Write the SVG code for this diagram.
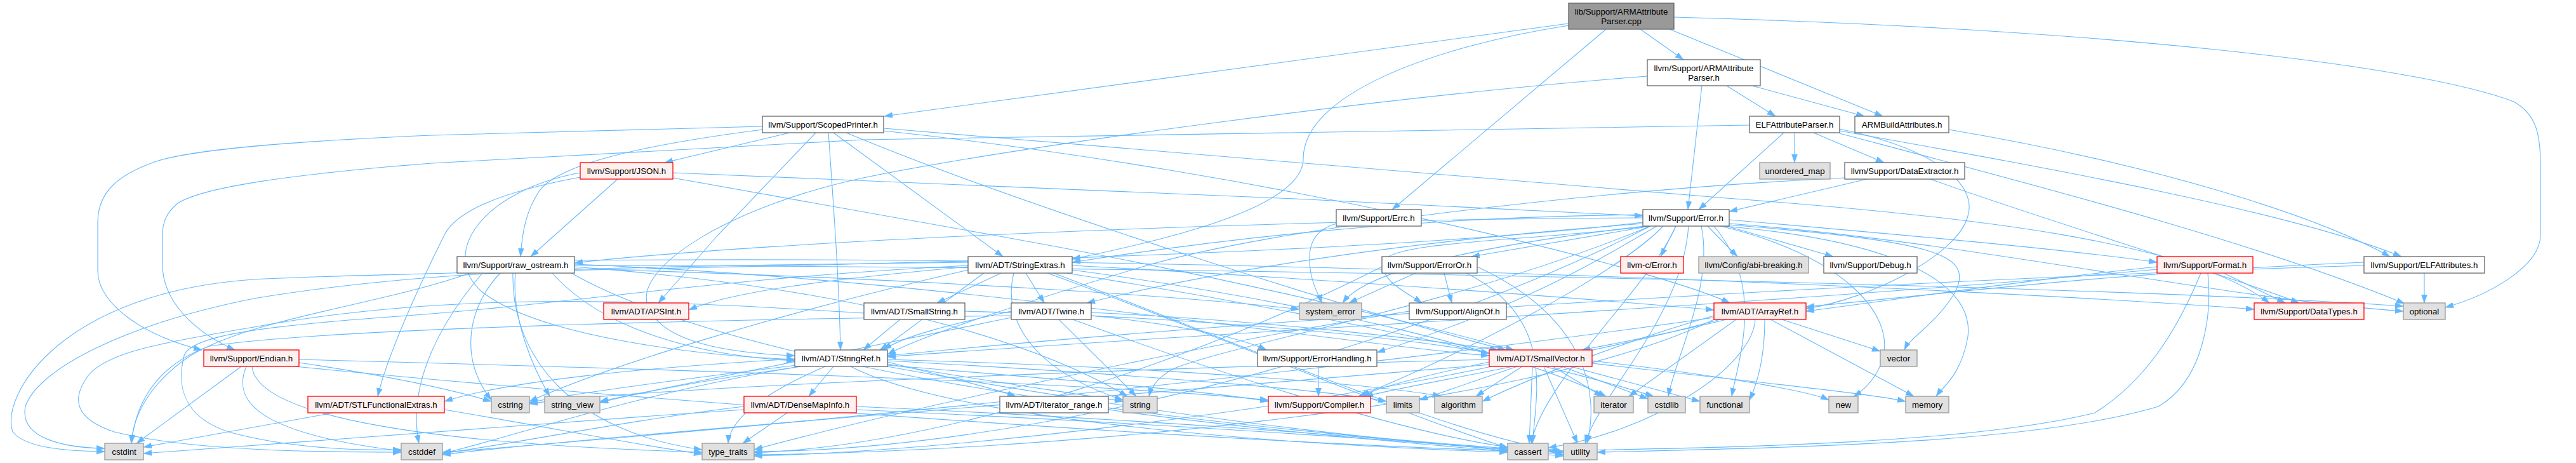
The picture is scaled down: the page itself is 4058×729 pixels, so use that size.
<svg xmlns="http://www.w3.org/2000/svg" width="4058" height="729" viewBox="0 0 4058 729">
<style>
.nd rect{fill:#fff;stroke:#666;stroke-width:1.3}
.root rect{fill:#999;stroke:#666}
.red rect{fill:#FFF0F0;stroke:#F00}
.sys rect{fill:#E0E0E0;stroke:#999}
.nd text{font-family:"Liberation Sans",Arial,Helvetica,sans-serif;font-size:13.33px;text-anchor:middle;fill:#000}
#edges path{fill:none;stroke:#63B8FF;stroke-width:1.1;marker-end:url(#ah)}
</style>
<defs>
<marker id="ah" markerUnits="userSpaceOnUse" markerWidth="14" markerHeight="10" refX="13" refY="4.5" orient="auto">
<path d="M0,0 L13,4.5 L0,9 z" fill="#63B8FF" stroke="#63B8FF" stroke-width="0.5"/>
</marker>
</defs>
<rect x="0" y="0" width="4058" height="729" fill="#fff"/>
<g id="edges">
<path d="M2471,37 L1393,183"/>
<path d="M2471,40 C2250,75 2053,150 2053,250 C2053,325 1850,375 1689,408"/>
<path d="M2530,46 L2193,330"/>
<path d="M2584,46 L2652,94"/>
<path d="M2630,46 L2966,183"/>
<path d="M2637,27 C3300,45 3800,100 3960,160 C3995,180 4002,210 4002,260 L4002,370 C4002,420 3920,465 3852,484"/>
<path d="M2720,135 L2797,183"/>
<path d="M2760,135 L2937,183"/>
<path d="M2681,135 L2659,330"/>
<path d="M2595,120 C2200,150 1600,230 1360,280 C1150,325 1000,420 1020,480 C1040,540 1150,556 1252,560"/>
<path d="M1201,199 L680,213 C400,225 280,240 238,257 C190,275 154,300 154,350 L154,427 C154,480 230,530 318,551"/>
<path d="M1201,204 C1000,230 880,260 850,300 C830,330 823,360 820,404"/>
<path d="M1244,209 L1047,256"/>
<path d="M1285,209 L1131,370 L1037,477"/>
<path d="M1313,209 L1580,404"/>
<path d="M1333,209 C1600,320 2100,480 2372,551"/>
<path d="M1392,202 L2720,312 C3100,340 3450,380 3575,477"/>
<path d="M1392,206 C2000,270 2600,420 2725,477"/>
<path d="M1305,209 C1315,350 1322,450 1324,551"/>
<path d="M2756,197 L1360,220 L680,257 C450,275 320,295 280,320 C262,335 256,350 256,370 L256,417 C256,470 300,520 370,551"/>
<path d="M2810,209 L2676,330"/>
<path d="M2827,209 L2827,256"/>
<path d="M2857,209 L2968,256"/>
<path d="M2898,206 C3200,260 3600,330 3783,404"/>
<path d="M2898,210 C3200,290 3550,380 3788,478"/>
<path d="M2898,203 C3050,235 3115,290 3100,340 C3085,400 2950,470 2845,486"/>
<path d="M3070,204 C3400,260 3650,340 3765,404"/>
<path d="M973,282 L836,404"/>
<path d="M914,279 C800,300 720,330 700,370 C660,450 610,560 595,624"/>
<path d="M914,272 C760,300 690,400 760,460 C850,530 1100,560 1252,566"/>
<path d="M1060,272 L2040,313 L2588,340"/>
<path d="M1060,280 L1564,370 C1900,430 2200,500 2385,551"/>
<path d="M2105,352 C2060,365 2060,400 2065,430 C2070,455 2078,465 2082,477"/>
<path d="M2941,282 L2724,333"/>
<path d="M3041,282 C3200,340 3500,430 3622,477"/>
<path d="M2906,280 C2500,300 2000,360 1800,420 C1600,480 1450,530 1398,558"/>
<path d="M2640,356 L2616,404"/>
<path d="M2690,356 L2737,404"/>
<path d="M2720,356 L2888,404"/>
<path d="M2600,356 L2318,404"/>
<path d="M2724,346 C3000,370 3250,392 3398,413"/>
<path d="M2588,343 C2000,345 1200,380 905,414"/>
<path d="M2588,338 C2200,342 1900,380 1689,413"/>
<path d="M2590,352 C2200,380 1900,430 1712,477"/>
<path d="M2600,356 C2400,380 2200,380 2180,410 C2170,440 2215,460 2240,477"/>
<path d="M2610,356 C2500,420 2400,480 2169,555"/>
<path d="M2620,356 C2550,430 2300,560 2140,624"/>
<path d="M2640,356 C2600,450 2430,600 2412,698"/>
<path d="M2660,356 C2650,500 2520,620 2497,698"/>
<path d="M2588,350 C2000,420 800,420 400,440 C100,460 0,620 20,680 C40,705 100,710 165,711"/>
<path d="M2680,356 C2700,450 2640,560 2628,624"/>
<path d="M2700,356 C2780,450 2740,560 2728,624"/>
<path d="M2715,356 C3000,380 3110,450 3100,530 C3090,590 3060,610 3050,624"/>
<path d="M2710,356 C2900,400 3000,500 2960,580 C2950,600 2935,615 2920,624"/>
<path d="M2724,352 C3100,380 3500,470 3786,490"/>
<path d="M2600,356 C2300,480 1950,540 1850,580 C1830,590 1815,605 1810,624"/>
<path d="M2590,356 C2300,390 2150,430 2115,477"/>
<path d="M2600,356 C2200,560 1600,710 1188,711"/>
<path d="M2724,354 C3050,380 3110,400 3080,460 C3050,510 3010,530 3000,551"/>
<path d="M788,430 C740,480 720,560 774,630"/>
<path d="M812,430 C805,500 840,580 866,624"/>
<path d="M870,430 C950,520 1100,560 1252,568"/>
<path d="M740,430 C600,480 400,500 300,560 C240,600 210,650 207,698"/>
<path d="M760,430 C700,500 640,600 660,698"/>
<path d="M808,430 C805,560 900,680 1106,708"/>
<path d="M905,420 C1300,450 1600,520 1776,624"/>
<path d="M900,430 C1200,600 2000,680 2375,706"/>
<path d="M905,416 C1500,440 2100,540 2346,560"/>
<path d="M905,410 C2000,400 3200,460 3551,487"/>
<path d="M905,418 C2000,420 3300,450 3786,482"/>
<path d="M905,423 C1500,440 1900,470 2047,487"/>
<path d="M1577,430 L1476,477"/>
<path d="M1616,430 L1645,477"/>
<path d="M1525,420 C1300,440 1150,460 1085,488"/>
<path d="M1550,430 C1480,480 1420,530 1386,551"/>
<path d="M1689,418 C2100,440 2500,470 2700,488"/>
<path d="M1597,430 C1580,500 1620,580 1769,630"/>
<path d="M1650,430 C1900,520 2200,650 2375,705"/>
<path d="M1525,418 C1100,440 900,480 600,500 C400,515 300,530 290,560 C275,620 300,660 360,680 C450,705 560,710 632,708"/>
<path d="M1525,413 C1000,420 700,420 400,470 C200,510 60,580 40,640 C30,690 100,705 165,706"/>
<path d="M1680,430 C2000,480 2400,560 2605,624"/>
<path d="M1525,425 C1200,500 950,580 834,632"/>
<path d="M1689,425 C2100,480 2400,560 2530,624"/>
<path d="M1660,430 C2000,560 2300,690 2463,711"/>
<path d="M2275,430 L2287,477"/>
<path d="M2230,430 L2125,477"/>
<path d="M2310,430 C2450,500 2420,620 2414,698"/>
<path d="M2177,420 C1900,560 1500,700 1188,713"/>
<path d="M2327,420 C2500,500 2520,620 2500,698"/>
<path d="M3503,430 L3600,477"/>
<path d="M3398,420 C3200,440 3000,470 2845,490"/>
<path d="M3398,424 C2800,480 1800,530 1398,562"/>
<path d="M3467,430 C3430,520 3380,600 3300,650 C3100,700 2700,705 2439,710"/>
<path d="M3478,430 C3485,500 3470,600 3400,640 C3200,700 2800,705 2516,712"/>
<path d="M3819,430 L3819,477"/>
<path d="M3724,413 C3300,430 3000,470 2845,483"/>
<path d="M3724,418 C3000,440 2000,500 1398,560"/>
<path d="M1520,490 C1900,500 2200,530 2346,556"/>
<path d="M1418,503 L1360,551"/>
<path d="M1361,493 C1000,470 700,460 400,515 C250,540 170,555 140,590 C110,630 120,660 180,680 C300,710 500,712 632,712"/>
<path d="M1719,492 C2000,505 2250,535 2360,551"/>
<path d="M1593,490 C1500,510 1420,530 1392,551"/>
<path d="M1719,497 C1850,510 1950,530 1995,551"/>
<path d="M1690,503 C1900,580 2200,680 2375,704"/>
<path d="M1593,497 C1000,505 500,520 330,545 C260,570 215,620 207,698"/>
<path d="M1668,503 L1790,624"/>
<path d="M1593,500 C1300,560 1000,620 945,632"/>
<path d="M2220,490 C1900,540 1400,650 1188,708"/>
<path d="M2807,503 L2962,553"/>
<path d="M2789,503 L3015,624"/>
<path d="M2735,503 L2566,624"/>
<path d="M2720,503 C2650,520 2550,540 2492,551"/>
<path d="M2700,497 C2550,540 2400,600 2335,632"/>
<path d="M2710,503 C2500,560 2250,600 2150,624"/>
<path d="M2765,503 C2760,580 2600,680 2439,705"/>
<path d="M2700,500 C2000,600 1000,690 697,712"/>
<path d="M2700,503 C2400,650 1600,712 1188,716"/>
<path d="M2780,503 C2780,560 2770,600 2756,630"/>
<path d="M380,577 L215,698"/>
<path d="M388,577 C370,620 380,680 632,710"/>
<path d="M397,577 C405,660 700,700 1106,712"/>
<path d="M471,566 C1000,580 1700,600 1998,630"/>
<path d="M471,571 C600,590 700,610 774,632"/>
<path d="M465,577 C900,620 1800,690 2375,710"/>
<path d="M1313,577 L1274,624"/>
<path d="M1300,577 C1200,620 1150,660 1147,698"/>
<path d="M1252,565 C1000,580 800,600 700,632"/>
<path d="M1398,570 C1480,590 1560,610 1600,624"/>
<path d="M1398,573 C1550,600 1700,620 1769,632"/>
<path d="M1398,575 C1700,600 1900,615 1998,632"/>
<path d="M1398,568 C1800,590 2100,615 2184,632"/>
<path d="M1398,566 C1900,580 2200,610 2270,624"/>
<path d="M1340,577 C1500,660 2000,700 2375,712"/>
<path d="M1260,577 C1000,620 800,690 697,714"/>
<path d="M1255,575 C1050,600 900,620 834,634"/>
<path d="M1262,577 C1100,600 1000,620 945,634"/>
<path d="M1398,577 C1800,650 2200,700 2463,713"/>
<path d="M2077,577 L2077,624"/>
<path d="M2390,577 L2236,630"/>
<path d="M2398,577 L2325,624"/>
<path d="M2414,577 L2409,698"/>
<path d="M2432,577 L2485,698"/>
<path d="M2446,577 L2524,624"/>
<path d="M2461,577 L2596,628"/>
<path d="M2474,577 L2678,632"/>
<path d="M2508,568 C2700,590 2850,615 2881,630"/>
<path d="M2508,572 C2750,600 2950,620 3002,632"/>
<path d="M2346,570 C2250,590 2170,610 2145,624"/>
<path d="M2346,574 C1800,620 900,690 697,716"/>
<path d="M2346,566 C1800,580 1000,610 834,636"/>
<path d="M2350,577 C2000,650 1500,710 1188,718"/>
<path d="M525,650 L226,704"/>
<path d="M700,645 C850,670 1000,700 1106,715"/>
<path d="M1240,650 L1170,698"/>
<path d="M1172,640 C1000,660 800,700 697,714"/>
<path d="M1172,645 C800,670 400,700 226,714"/>
<path d="M1349,640 C1800,660 2200,690 2375,710"/>
<path d="M1349,645 C1900,670 2300,700 2463,716"/>
<path d="M1746,645 C2000,680 2300,705 2463,718"/>
</g>
<g id="n_cpp" class="nd root"><rect x="2471" y="5" width="166" height="41"/><text x="2554" y="22.5">lib/Support/ARMAttribute</text><text x="2554" y="37.5">Parser.cpp</text></g>
<g id="n_armh" class="nd"><rect x="2595" y="94" width="178" height="41"/><text x="2684" y="111.5">llvm/Support/ARMAttribute</text><text x="2684" y="126.5">Parser.h</text></g>
<g id="n_scoped" class="nd"><rect x="1201" y="183" width="191" height="26"/><text x="1296.5" y="201">llvm/Support/ScopedPrinter.h</text></g>
<g id="n_elfp" class="nd"><rect x="2756" y="183" width="142" height="26"/><text x="2827" y="201">ELFAttributeParser.h</text></g>
<g id="n_armba" class="nd"><rect x="2922" y="183" width="148" height="26"/><text x="2996" y="201">ARMBuildAttributes.h</text></g>
<g id="n_json" class="nd red"><rect x="914" y="256" width="146" height="26"/><text x="987" y="274">llvm/Support/JSON.h</text></g>
<g id="n_umap" class="nd sys"><rect x="2772" y="256" width="111" height="26"/><text x="2827.5" y="274">unordered_map</text></g>
<g id="n_dext" class="nd"><rect x="2906" y="256" width="189" height="26"/><text x="3000.5" y="274">llvm/Support/DataExtractor.h</text></g>
<g id="n_errc" class="nd"><rect x="2105" y="330" width="134" height="26"/><text x="2172" y="348">llvm/Support/Errc.h</text></g>
<g id="n_error" class="nd"><rect x="2588" y="330" width="136" height="26"/><text x="2656" y="348">llvm/Support/Error.h</text></g>
<g id="n_raw" class="nd"><rect x="720" y="404" width="185" height="26"/><text x="812.5" y="422">llvm/Support/raw_ostream.h</text></g>
<g id="n_strext" class="nd"><rect x="1525" y="404" width="164" height="26"/><text x="1607" y="422">llvm/ADT/StringExtras.h</text></g>
<g id="n_erroror" class="nd"><rect x="2177" y="404" width="150" height="26"/><text x="2252" y="422">llvm/Support/ErrorOr.h</text></g>
<g id="n_cerr" class="nd red"><rect x="2553" y="404" width="99" height="26"/><text x="2602.5" y="422">llvm-c/Error.h</text></g>
<g id="n_abi" class="nd sys"><rect x="2676" y="404" width="173" height="26"/><text x="2762.5" y="422">llvm/Config/abi-breaking.h</text></g>
<g id="n_debug" class="nd"><rect x="2873" y="404" width="147" height="26"/><text x="2946.5" y="422">llvm/Support/Debug.h</text></g>
<g id="n_format" class="nd red"><rect x="3398" y="404" width="151" height="26"/><text x="3473.5" y="422">llvm/Support/Format.h</text></g>
<g id="n_elfattr" class="nd"><rect x="3724" y="404" width="190" height="26"/><text x="3819" y="422">llvm/Support/ELFAttributes.h</text></g>
<g id="n_apsint" class="nd red"><rect x="951" y="477" width="134" height="26"/><text x="1018" y="495">llvm/ADT/APSInt.h</text></g>
<g id="n_smallstr" class="nd"><rect x="1361" y="477" width="159" height="26"/><text x="1440.5" y="495">llvm/ADT/SmallString.h</text></g>
<g id="n_twine" class="nd"><rect x="1593" y="477" width="126" height="26"/><text x="1656" y="495">llvm/ADT/Twine.h</text></g>
<g id="n_syserr" class="nd sys"><rect x="2047" y="477" width="98" height="26"/><text x="2096" y="495">system_error</text></g>
<g id="n_alignof" class="nd"><rect x="2220" y="477" width="153" height="26"/><text x="2296.5" y="495">llvm/Support/AlignOf.h</text></g>
<g id="n_arrayref" class="nd red"><rect x="2700" y="477" width="145" height="26"/><text x="2772.5" y="495">llvm/ADT/ArrayRef.h</text></g>
<g id="n_datatypes" class="nd red"><rect x="3551" y="477" width="173" height="26"/><text x="3637.5" y="495">llvm/Support/DataTypes.h</text></g>
<g id="n_optional" class="nd sys"><rect x="3786" y="477" width="66" height="26"/><text x="3819" y="495">optional</text></g>
<g id="n_endian" class="nd red"><rect x="321" y="551" width="150" height="26"/><text x="396" y="569">llvm/Support/Endian.h</text></g>
<g id="n_stringref" class="nd"><rect x="1252" y="551" width="146" height="26"/><text x="1325" y="569">llvm/ADT/StringRef.h</text></g>
<g id="n_errhand" class="nd"><rect x="1981" y="551" width="188" height="26"/><text x="2075" y="569">llvm/Support/ErrorHandling.h</text></g>
<g id="n_smallvec" class="nd red"><rect x="2346" y="551" width="162" height="26"/><text x="2427" y="569">llvm/ADT/SmallVector.h</text></g>
<g id="n_vector" class="nd sys"><rect x="2962" y="551" width="58" height="26"/><text x="2991" y="569">vector</text></g>
<g id="n_stlfe" class="nd red"><rect x="485" y="624" width="215" height="26"/><text x="592.5" y="642">llvm/ADT/STLFunctionalExtras.h</text></g>
<g id="n_cstring" class="nd sys"><rect x="774" y="624" width="60" height="26"/><text x="804" y="642">cstring</text></g>
<g id="n_strview" class="nd sys"><rect x="858" y="624" width="87" height="26"/><text x="901.5" y="642">string_view</text></g>
<g id="n_densemap" class="nd red"><rect x="1172" y="624" width="177" height="26"/><text x="1260.5" y="642">llvm/ADT/DenseMapInfo.h</text></g>
<g id="n_iterrange" class="nd"><rect x="1575" y="624" width="171" height="26"/><text x="1660.5" y="642">llvm/ADT/iterator_range.h</text></g>
<g id="n_string" class="nd sys"><rect x="1769" y="624" width="54" height="26"/><text x="1796" y="642">string</text></g>
<g id="n_compiler" class="nd red"><rect x="1998" y="624" width="161" height="26"/><text x="2078.5" y="642">llvm/Support/Compiler.h</text></g>
<g id="n_limits" class="nd sys"><rect x="2184" y="624" width="52" height="26"/><text x="2210" y="642">limits</text></g>
<g id="n_algorithm" class="nd sys"><rect x="2260" y="624" width="75" height="26"/><text x="2297.5" y="642">algorithm</text></g>
<g id="n_iterator" class="nd sys"><rect x="2511" y="624" width="62" height="26"/><text x="2542" y="642">iterator</text></g>
<g id="n_cstdlib" class="nd sys"><rect x="2596" y="624" width="59" height="26"/><text x="2625.5" y="642">cstdlib</text></g>
<g id="n_functional" class="nd sys"><rect x="2678" y="624" width="78" height="26"/><text x="2717" y="642">functional</text></g>
<g id="n_new" class="nd sys"><rect x="2881" y="624" width="46" height="26"/><text x="2904" y="642">new</text></g>
<g id="n_memory" class="nd sys"><rect x="3002" y="624" width="68" height="26"/><text x="3036" y="642">memory</text></g>
<g id="n_cstdint" class="nd sys"><rect x="165" y="698" width="61" height="26"/><text x="195.5" y="716">cstdint</text></g>
<g id="n_cstddef" class="nd sys"><rect x="632" y="698" width="65" height="26"/><text x="664.5" y="716">cstddef</text></g>
<g id="n_typetraits" class="nd sys"><rect x="1106" y="698" width="82" height="26"/><text x="1147" y="716">type_traits</text></g>
<g id="n_cassert" class="nd sys"><rect x="2375" y="698" width="64" height="26"/><text x="2407" y="716">cassert</text></g>
<g id="n_utility" class="nd sys"><rect x="2463" y="698" width="53" height="26"/><text x="2489.5" y="716">utility</text></g>
</svg>
